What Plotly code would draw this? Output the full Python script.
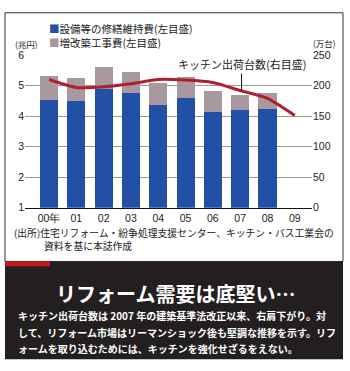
import plotly.graph_objects as go

W, H = 350, 371

years = ["00年", "01", "02", "03", "04", "05", "06", "07", "08", "09"]
maintenance = [4.54, 4.51, 4.89, 4.77, 4.38, 4.59, 4.14, 4.19, 4.22, None]   # 兆円
renovation = [0.79, 0.75, 0.72, 0.68, 0.69, 0.69, 0.69, 0.51, 0.53, None]   # 兆円
kitchen = [210, 197, 198, 203, 210, 209, 205, 192, 179, 151]                  # 万台
left_ticks = [1, 2, 3, 4, 5, 6]
right_ticks = [0, 50, 100, 150, 200, 250]

JP = "Noto Sans CJK JP"
NUM = "Liberation Sans"
BLUE = "#2150a6"
MAUVE = "#a8989f"
RED = "#b01f2c"


def X(px):
    return px / W


def Y(py):
    return 1 - py / H


xs = list(range(len(years)))

fig = go.Figure()
fig.add_trace(go.Bar(x=xs, y=maintenance, marker=dict(color=BLUE, line=dict(width=0)),
                     width=0.66, name="設備等の修繕維持費(左目盛)"))
fig.add_trace(go.Bar(x=xs, y=renovation, marker=dict(color=MAUVE, line=dict(width=0)),
                     width=0.66, name="増改築工事費(左目盛)"))
fig.add_trace(go.Scatter(x=xs, y=kitchen, yaxis="y2", mode="lines",
                         line=dict(color=RED, width=3, shape="spline", smoothing=0.6),
                         name="キッチン出荷台数(右目盛)"))

fig.update_layout(
    width=W, height=H, autosize=False,
    margin=dict(l=0, r=0, t=0, b=0),
    paper_bgcolor="white", plot_bgcolor="rgba(0,0,0,0)",
    barmode="stack", showlegend=False,
    xaxis=dict(domain=[X(25), X(312)], range=[-0.88, 9.63],
               tickvals=xs, ticktext=years, ticks="",
               tickfont=dict(family=NUM, size=10.5, color="#222"),
               showgrid=False, zeroline=False,
               showline=True, linecolor="#111", linewidth=1.3, fixedrange=True),
    yaxis=dict(domain=[Y(208.5), Y(50.7)], range=[1, 6],
               tickvals=left_ticks, ticks="",
               tickfont=dict(family=NUM, size=10.5, color="#222"),
               showgrid=True, gridcolor="#9a9a9a", gridwidth=1,
               zeroline=False, showline=False, fixedrange=True),
    yaxis2=dict(overlaying="y", side="right", range=[0, 250],
                tickvals=right_ticks, ticks="",
                tickfont=dict(family=NUM, size=10.5, color="#222"),
                showgrid=False, zeroline=False, showline=False, fixedrange=True),
)

shapes = [
    dict(type="rect", xref="paper", yref="paper", x0=X(5), x1=X(343), y0=Y(264), y1=Y(7),
         line=dict(color="#333", width=1), fillcolor="rgba(0,0,0,0)", layer="below"),
    dict(type="rect", xref="paper", yref="paper", x0=X(5), x1=X(343), y0=Y(365), y1=Y(264),
         line=dict(width=0), fillcolor="#231f20"),
    dict(type="rect", xref="paper", yref="paper", x0=X(5), x1=X(50), y0=Y(269), y1=Y(264),
         line=dict(width=0), fillcolor="#c8161d"),
]
fig.update_layout(shapes=shapes)

ann = []


def text(px, py, s, size, color="#222", xanchor="left", family=JP, bold=False):
    if bold:
        s = "<b>" + s + "</b>"
    ann.append(dict(x=X(px), y=Y(py), xref="paper", yref="paper", text=s,
                    showarrow=False, xanchor=xanchor, yanchor="middle", align="left",
                    font=dict(family=family, size=size, color=color)))


text(47, 31, f'<span style="color:{BLUE}">■</span>設備等の修繕維持費(左目盛)<br>'
             f'<span style="color:{MAUVE}">■</span>増改築工事費(左目盛)', 10.5)
text(13, 39, "(兆円)", 8.5)
text(311, 38, "(万台)", 8.5)
text(12, 235, "(出所)住宅リフォーム・紛争処理支援センター、キッチン・バス工業会の", 9.8)
text(42, 248, "資料を基に本誌作成", 9.8)
text(175, 297, "リフォーム需要は底堅い…", 20, color="white", xanchor="center", bold=True)
text(16, 320, "キッチン出荷台数は 2007 年の建築基準法改正以来、右肩下がり。対", 10,
     color="white", bold=True)
text(16, 337, "して、リフォーム市場はリーマンショック後も堅調な推移を示す。リフ", 10,
     color="white", bold=True)
text(16, 354, "ォームを取り込むためには、キッチンを強化せざるをえない。", 10,
     color="white", bold=True)

# line label with pointer
ann.append(dict(x=7.05, y=191, xref="x", yref="y2", text="キッチン出荷台数(右目盛)",
                showarrow=True, arrowhead=0, arrowwidth=1, arrowcolor="#111",
                ax=0, ay=-27, font=dict(family=JP, size=11, color="#222")))

fig.update_layout(annotations=ann)

fig.write_html("out.html")
